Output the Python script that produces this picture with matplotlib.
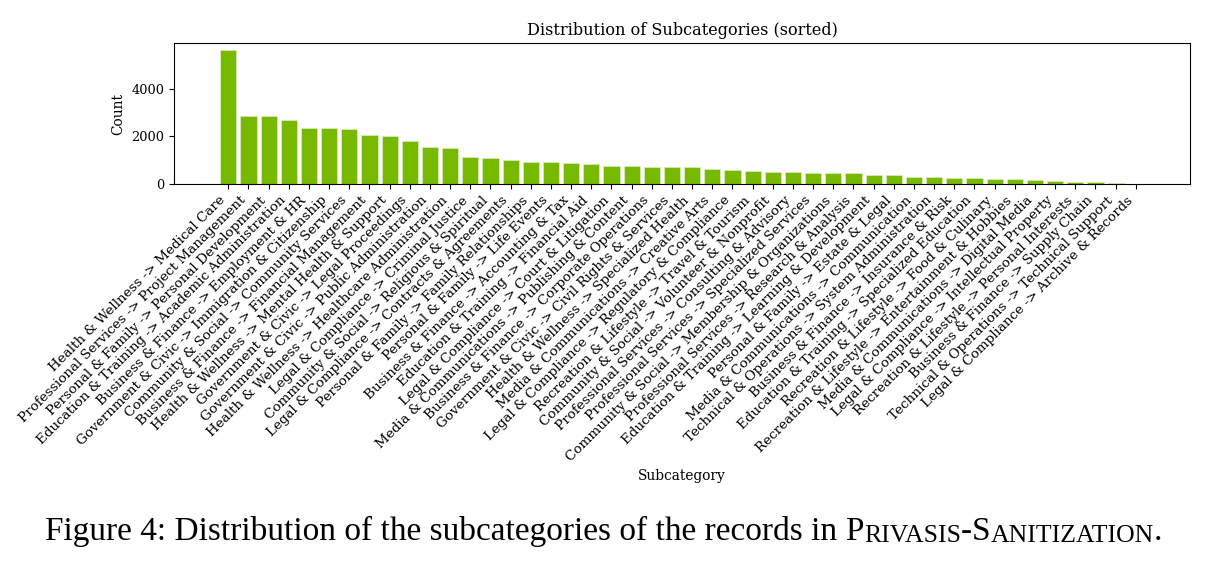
import matplotlib
matplotlib.use("Agg")
import matplotlib.pyplot as plt

subcategories = [
    "Health & Wellness -> Medical Care",
    "Professional Services -> Project Management",
    "Personal & Family -> Personal Development",
    "Education & Training -> Academic Administration",
    "Business & Finance -> Employment & HR",
    "Government & Civic -> Immigration & Citizenship",
    "Community & Social -> Community Services",
    "Business & Finance -> Financial Management",
    "Health & Wellness -> Mental Health & Support",
    "Government & Civic -> Legal Proceedings",
    "Government & Civic -> Public Administration",
    "Health & Wellness -> Healthcare Administration",
    "Legal & Compliance -> Criminal Justice",
    "Community & Social -> Religious & Spiritual",
    "Legal & Compliance -> Contracts & Agreements",
    "Personal & Family -> Family Relationships",
    "Personal & Family -> Life Events",
    "Business & Finance -> Accounting & Tax",
    "Education & Training -> Financial Aid",
    "Legal & Compliance -> Court & Litigation",
    "Media & Communications -> Publishing & Content",
    "Business & Finance -> Corporate Operations",
    "Government & Civic -> Civil Rights & Services",
    "Health & Wellness -> Specialized Health",
    "Media & Communications -> Creative Arts",
    "Legal & Compliance -> Regulatory & Compliance",
    "Recreation & Lifestyle -> Travel & Tourism",
    "Community & Social -> Volunteer & Nonprofit",
    "Professional Services -> Consulting & Advisory",
    "Professional Services -> Specialized Services",
    "Community & Social -> Membership & Organizations",
    "Professional Services -> Research & Analysis",
    "Education & Training -> Learning & Development",
    "Personal & Family -> Estate & Legal",
    "Media & Communications -> Communication",
    "Technical & Operations -> System Administration",
    "Business & Finance -> Insurance & Risk",
    "Education & Training -> Specialized Education",
    "Recreation & Lifestyle -> Food & Culinary",
    "Recreation & Lifestyle -> Entertainment & Hobbies",
    "Media & Communications -> Digital Media",
    "Legal & Compliance -> Intellectual Property",
    "Recreation & Lifestyle -> Personal Interests",
    "Business & Finance -> Supply Chain",
    "Technical & Operations -> Technical Support",
    "Legal & Compliance -> Archive & Records",
]

counts = [
    5650, 2875, 2870, 2705, 2365, 2355, 2325, 2070, 2000, 1805,
    1550, 1520, 1125, 1095, 1005, 930, 915, 870, 858, 760,
    745, 735, 730, 718, 620, 592, 550, 505, 490, 478,
    465, 450, 395, 380, 310, 282, 255, 252, 212, 198,
    155, 112, 98, 70, 40, 6,
]

plt.rcParams["font.family"] = ["DejaVu Serif"]
plt.rcParams["font.size"] = 9.3

fig = plt.figure(figsize=(12.11, 5.63), dpi=100)
ax = fig.add_axes([0.1437, 0.6732, 0.9827 - 0.1437, 0.9236 - 0.6732])

x = range(len(subcategories))
ax.bar(x, counts, color="#76b900", edgecolor="#d6ecb5", linewidth=0.6)
ax.set_xticks(list(x))
ax.set_xticklabels(subcategories, rotation=45, ha="right", fontsize=9.7)
ax.set_yticks([0, 2000, 4000])
ax.set_title("Distribution of Subcategories (sorted)", fontsize=11.6)
ax.set_ylabel("Count", fontsize=9.9)
ax.set_xlabel("Subcategory", fontsize=9.9)

# caption, small caps faked with smaller capitals
cap_font = "Liberation Serif"
big = 24
small = 18.5
last = fig.text(0.037, 0.04, "Figure 4: Distribution of the subcategories of the records in ",
                fontsize=big, family=cap_font, va="baseline")
pieces = [("P", big), ("RIVASIS", small), ("-", big), ("S", big),
          ("ANITIZATION", small), (".", big)]
for s, fs in pieces:
    last = ax.annotate(s, xy=(1, 0), xycoords=last, fontsize=fs, family=cap_font,
                       va="bottom", ha="left", annotation_clip=False)

fig.savefig("out.png", dpi=100)
